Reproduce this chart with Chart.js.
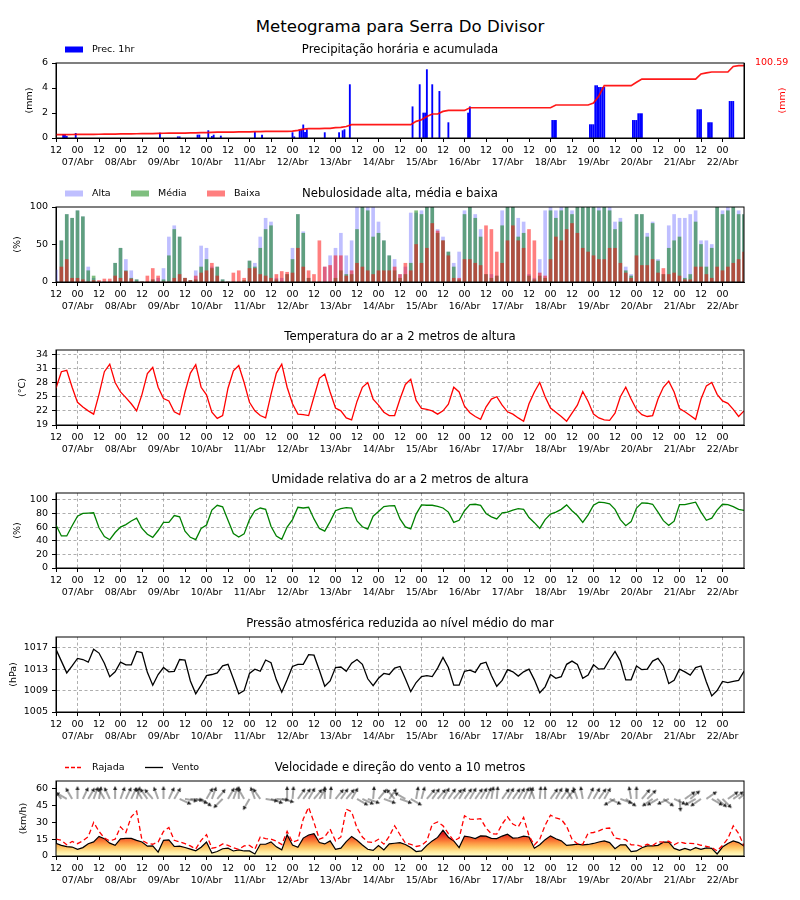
<!DOCTYPE html>
<html>
<head>
<meta charset="utf-8">
<script src="https://cdn.jsdelivr.net/npm/chart.js@4.4.1/dist/chart.umd.min.js"></script>
<style>
  body { margin: 0; background: #fff; width: 800px; height: 900px; position: relative; font-family: "DejaVu Sans", sans-serif; }
  #title { position: absolute; left: 0; top: 17px; width: 800px; text-align: center; font-size: 16.6px; line-height: 20px; color: #000; }
  .panel { position: absolute; left: 0; width: 800px; height: 145px; }
</style>
</head>
<body>
<div id="title">Meteograma para Serra Do Divisor</div>
<div class="panel" style="top:33px"><canvas id="cPrec" width="800" height="145"></canvas></div>
<div class="panel" style="top:177px"><canvas id="cCloud" width="800" height="145"></canvas></div>
<div class="panel" style="top:320px"><canvas id="cTemp" width="800" height="145"></canvas></div>
<div class="panel" style="top:463px"><canvas id="cHum" width="800" height="145"></canvas></div>
<div class="panel" style="top:607px"><canvas id="cPres" width="800" height="145"></canvas></div>
<div class="panel" style="top:751px"><canvas id="cWind" width="800" height="145"></canvas></div>
<script>
// horas desde 06/Abr 12h, passo de 3 h (129 pontos)
const stepHours = 3;
const lastHour = 384;
const dayLabels = ['07/Abr', '08/Abr', '09/Abr', '10/Abr', '11/Abr', '12/Abr', '13/Abr', '14/Abr',
  '15/Abr', '16/Abr', '17/Abr', '18/Abr', '19/Abr', '20/Abr', '21/Abr', '22/Abr'];

const precTicks = [0, 2, 4, 6];
const cloudTicks = [0, 50, 100];
const tempTicks = [19, 22, 25, 28, 31, 34];
const humTicks = [0, 20, 40, 60, 80, 100];
const presTicks = [1005, 1009, 1013, 1017];
const windTicks = [0, 15, 30, 45, 60];

// precipitação horária (hora, mm)
const precipHours = [4, 5, 6, 11, 58, 68, 69, 79, 80, 85, 87, 88, 92, 111, 115, 132, 133, 136, 137, 138, 139, 140,
  150, 158, 160, 161, 164, 199, 203, 205, 206, 207, 210, 214, 219, 230, 231, 277, 278, 279, 298, 299, 300,
  301, 302, 303, 304, 305, 306, 322, 323, 324, 325, 326, 327, 358, 359, 360, 364, 365, 366, 376, 377, 378];
const precipMm = [0.27, 0.27, 0.13, 0.37, 0.4, 0.1, 0.1, 0.24, 0.24, 0.59, 0.13, 0.24, 0.16, 0.45, 0.24, 0.43, 0.1,
  0.64, 0.64, 1.05, 0.45, 0.67, 0.43, 0.43, 0.59, 0.67, 4.27, 2.5, 4.27, 2.0, 2.0, 5.47, 4.27, 3.73, 1.23, 2.0, 2.5,
  1.41, 1.41, 1.41, 1.07, 1.07, 1.07, 4.19, 4.19, 4.05, 4.05, 4.05, 4.05, 1.41, 1.41, 1.41, 1.95, 1.95, 1.95,
  2.27, 2.27, 2.27, 1.23, 1.23, 1.23, 2.93, 2.93, 2.93];
const accumMax = 104.3;
const precipAccum = [4.6, 4.7, 4.8, 4.9, 5.0, 5.0, 5.0, 5.1, 5.2, 5.3,
  5.4, 5.5, 5.6, 5.7, 5.8, 5.9, 6.0, 6.1, 6.2, 6.4,
  6.6, 6.7, 6.8, 6.9, 6.9, 7.0, 7.1, 7.4, 7.6, 7.9,
  8.1, 8.2, 8.3, 8.3, 8.4, 8.4, 8.5, 8.8, 9.0, 9.2,
  9.2, 9.2, 9.2, 9.3, 9.5, 10.6, 12.4, 12.9, 12.9, 13.0,
  13.3, 13.5, 14.3, 14.8, 16.0, 18.5, 18.5, 18.5, 18.5, 18.5,
  18.5, 18.5, 18.5, 18.5, 18.5, 18.5, 18.5, 23.1, 25.4, 30.0,
  33.4, 33.4, 37.0, 38.4, 38.4, 38.4, 38.4, 42.1, 42.1, 42.1,
  42.1, 42.1, 42.1, 42.1, 42.1, 42.1, 42.1, 42.1, 42.1, 42.1,
  42.1, 42.1, 42.1, 45.9, 45.9, 45.9, 45.9, 45.9, 45.9, 45.9,
  48.5, 58.5, 72.7, 72.7, 72.7, 72.7, 72.7, 72.8, 77.5, 82.0,
  82.0, 82.0, 82.0, 82.0, 82.0, 82.0, 82.0, 82.0, 82.0, 82.0,
  89.0, 90.5, 91.8, 91.8, 91.8, 91.8, 99.5, 100.59, 100.59];

const cloudHigh = [16, 55, 90, 85, 95, 87, 20, 5, 0, 0,
  0, 25, 45, 30, 15, 3, 0, 0, 3, 5,
  18, 60, 75, 60, 5, 2, 15, 48, 45, 20,
  20, 3, 0, 0, 0, 0, 28, 25, 60, 85,
  80, 5, 5, 10, 45, 90, 67, 5, 0, 0,
  20, 35, 45, 65, 35, 55, 100, 100, 100, 100,
  80, 55, 35, 30, 10, 20, 92, 92, 95, 100,
  100, 70, 60, 40, 25, 40, 95, 100, 90, 70,
  10, 10, 8, 95, 100, 100, 85, 80, 10, 5,
  30, 95, 100, 95, 100, 100, 95, 100, 100, 100,
  100, 100, 100, 100, 80, 85, 20, 10, 90, 90,
  65, 80, 30, 10, 75, 90, 85, 85, 90, 95,
  55, 55, 50, 100, 95, 100, 100, 95, 90];
const cloudMid = [0, 55, 90, 85, 95, 87, 15, 8, 0, 0,
  0, 25, 45, 15, 5, 3, 0, 0, 3, 0,
  3, 35, 70, 60, 5, 2, 3, 20, 30, 18,
  20, 3, 0, 0, 0, 2, 28, 20, 45, 70,
  75, 3, 0, 10, 30, 90, 65, 5, 0, 0,
  0, 0, 5, 15, 10, 10, 70, 100, 95, 60,
  65, 55, 35, 15, 5, 10, 25, 95, 90, 100,
  100, 65, 55, 40, 20, 3, 90, 100, 85, 60,
  10, 5, 8, 75, 100, 100, 60, 65, 8, 3,
  8, 5, 95, 85, 95, 100, 90, 100, 100, 100,
  100, 95, 100, 95, 70, 80, 15, 8, 90, 90,
  60, 78, 28, 10, 45, 55, 60, 5, 10, 80,
  50, 20, 45, 100, 90, 95, 100, 90, 90];
const cloudLow = [0, 20, 30, 5, 5, 3, 0, 2, 2, 4,
  4, 8, 5, 14, 4, 0, 0, 8, 18, 8,
  0, 0, 5, 10, 5, 2, 8, 12, 15, 25,
  8, 0, 0, 12, 15, 5, 18, 18, 10, 8,
  5, 10, 14, 13, 12, 45, 20, 15, 10, 55,
  20, 22, 35, 35, 8, 15, 25, 20, 15, 10,
  15, 15, 15, 20, 10, 25, 15, 50, 25, 45,
  78, 68, 55, 35, 5, 5, 30, 30, 25, 22,
  75, 70, 40, 25, 55, 75, 55, 45, 70, 55,
  12, 8, 30, 60, 55, 70, 78, 65, 45, 40,
  35, 30, 30, 45, 45, 25, 12, 5, 35, 22,
  22, 30, 12, 18, 10, 12, 8, 3, 3, 20,
  20, 10, 5, 20, 15, 20, 25, 30, 40];

const temperature = [26.8, 30.3, 30.6, 27.0, 23.8, 22.8, 22.0, 21.3, 25.5, 30.3,
  31.9, 28.0, 26.0, 24.8, 23.5, 22.0, 25.5, 29.9, 31.2, 27.0,
  24.6, 24.1, 21.8, 21.2, 26.0, 30.0, 31.8, 27.0, 25.4, 21.7,
  20.4, 21.0, 26.8, 30.5, 31.6, 28.0, 23.8, 22.0, 21.0, 20.5,
  25.5, 30.0, 31.9, 27.0, 23.5, 21.3, 21.2, 21.0, 25.0, 28.9,
  29.8, 26.0, 22.6, 22.0, 20.5, 20.1, 24.0, 27.0, 28.0, 24.5,
  23.2, 21.7, 21.0, 21.0, 24.5, 27.6, 28.7, 24.2, 22.5, 22.3,
  22.0, 21.3, 22.0, 23.4, 27.0, 26.0, 23.0, 21.6, 20.8, 20.2,
  22.8, 24.5, 25.0, 23.2, 21.8, 21.3, 20.5, 19.8, 23.5, 26.0,
  28.0, 25.0, 22.6, 21.7, 20.8, 19.8, 21.5, 23.2, 26.1, 24.0,
  21.3, 20.5, 20.1, 20.0, 21.5, 25.0, 27.0, 24.5, 22.3, 21.2,
  20.8, 21.0, 24.5, 27.0, 28.3, 26.0, 22.5, 21.8, 21.0, 20.2,
  24.5, 27.3, 28.0, 25.5, 24.1, 23.6, 22.3, 20.8, 22.0];

const humidity = [63, 47, 47, 62, 76, 80, 80.5, 81, 59, 46,
  41.5, 52, 60, 63.7, 69, 73, 58, 49.5, 45, 55,
  67, 67, 77, 75, 54, 45, 41.7, 58, 63, 85,
  92, 89.7, 70, 50.5, 45.5, 50, 71, 84, 88, 86,
  61.3, 47, 42, 60, 71, 89, 88, 89, 72, 58,
  54, 68, 84, 87, 88.5, 88, 69, 60.5, 57, 76,
  83, 90, 91, 91.5, 72, 60.3, 57.4, 79, 92.5, 92,
  92, 90.5, 88, 82, 67, 70, 84, 93, 93.5, 92,
  80, 75, 72, 81, 82, 85, 87, 86, 74, 66.5,
  58, 71, 79, 82, 86, 92.5, 84, 77, 67, 78,
  92, 96.5, 96, 94, 86, 71, 62, 68, 88, 95.5,
  95, 93.5, 82, 69.5, 62.5, 68.6, 93, 93, 94.8, 96.6,
  82, 70, 73, 85, 93.5, 93, 90, 86, 84.5];

const pressure = [1016.7, 1014.5, 1012.3, 1013.6, 1015.0, 1014.8, 1014.3, 1016.7, 1016.0, 1014.1,
  1011.6, 1012.5, 1014.3, 1013.8, 1013.8, 1016.3, 1016.1, 1012.4, 1010.0, 1012.0,
  1013.3, 1012.5, 1012.6, 1014.8, 1014.7, 1010.8, 1008.4, 1010.0, 1011.8, 1012.0,
  1012.3, 1013.6, 1013.9, 1011.2, 1008.4, 1009.0, 1012.2, 1013.0, 1012.6, 1014.7,
  1014.2, 1011.0, 1008.7, 1011.0, 1013.5, 1013.9, 1013.9, 1015.7, 1015.6, 1012.8,
  1009.8, 1010.8, 1013.3, 1013.4, 1012.6, 1014.1, 1014.8, 1013.9, 1011.2, 1009.9,
  1011.3, 1012.2, 1012.0, 1013.2, 1013.5, 1011.2, 1008.8, 1010.5, 1011.6, 1011.8,
  1011.6, 1013.2, 1015.2, 1013.3, 1010.0, 1010.0, 1012.6, 1012.8, 1012.4, 1014.0,
  1014.3, 1011.8, 1009.8, 1010.9, 1012.9, 1012.5, 1011.7, 1012.5, 1013.0, 1011.0,
  1008.6, 1009.7, 1012.0, 1011.3, 1011.6, 1013.9, 1014.5, 1013.9, 1011.3, 1011.9,
  1013.8, 1013.0, 1013.1, 1014.8, 1016.3, 1014.5, 1011.0, 1011.0, 1013.6, 1012.9,
  1013.0, 1014.5, 1015.0, 1013.6, 1010.3, 1010.9, 1013.0, 1012.5, 1011.9, 1013.3,
  1013.6, 1010.6, 1008.0, 1009.0, 1010.7, 1010.5, 1010.7, 1010.9, 1012.6];

const windSpeed = [11.4, 9.5, 8.4, 8.0, 6.0, 7.5, 11.0, 12.6, 17.5, 15.5,
  11.5, 9.5, 15.3, 15.8, 15.8, 14.0, 12.5, 8.8, 9.0, 3.5,
  14.0, 14.4, 8.5, 8.8, 7.6, 6.2, 4.6, 7.8, 12.5, 2.7,
  4.0, 6.5, 7.0, 4.5, 5.5, 4.5, 4.5, 1.8, 10.5, 10.5,
  12.6, 8.2, 5.5, 19.0, 9.8, 7.8, 16.0, 18.8, 20.0, 12.0,
  10.8, 13.5, 6.0, 7.0, 12.8, 17.5, 14.0, 9.8, 6.0, 5.0,
  9.4, 5.5, 10.8, 11.4, 12.0, 10.3, 7.5, 4.0, 4.6, 9.5,
  13.5, 16.6, 23.0, 16.8, 13.5, 7.5, 17.8, 17.0, 15.5, 18.0,
  17.8, 15.8, 15.5, 17.8, 19.5, 16.0, 16.3, 17.7, 17.0, 7.0,
  10.0, 14.6, 18.0, 15.4, 13.5, 9.5, 10.0, 10.6, 10.0, 10.3,
  11.2, 12.5, 13.5, 12.0, 6.5, 10.0, 10.0, 4.0, 4.5, 7.4,
  9.0, 9.0, 9.5, 12.4, 12.4, 6.8, 5.0, 6.8, 5.2, 7.5,
  6.0, 7.2, 6.8, 1.8, 8.0, 11.2, 13.5, 12.0, 9.0];

const windGust = [15, 14, 10, 13, 11, 13.5, 17.3, 30, 22, 16,
  13.5, 15, 26, 21, 35, 40, 14, 11.3, 10.5, 12.5,
  22, 25.5, 14, 12.6, 11, 9, 6.2, 14, 19, 7,
  7.8, 10.7, 9.5, 7.3, 6, 9, 9.5, 6, 17, 15.6,
  15, 13.3, 10.2, 22, 12.3, 14, 33, 43.5, 30, 15,
  17, 24, 13.5, 17, 41.8, 39.5, 25, 17, 12.6, 12,
  15, 10.6, 17.5, 27, 19, 11.6, 10.5, 8.5, 9.5, 13.5,
  28.3, 30.4, 27, 20, 13.5, 16, 36, 33, 32.7, 33.3,
  25, 19.8, 19.5, 28.5, 35, 28.5, 26, 34.5, 18, 9.8,
  15, 27.5, 36.5, 34, 32.8, 26.5, 15, 11, 10.5, 20.4,
  21, 22.5, 24.6, 25, 16, 15, 14.6, 10, 10, 8.4,
  10.5, 9.4, 12.8, 12.4, 13.2, 10, 12.5, 11.4, 11.2, 11,
  9.6, 8.6, 7.6, 4.5, 9.5, 15.5, 27, 20, 9];

// direção para onde a seta aponta (graus, sentido horário a partir do norte)
const windDir = [315, 320, 300, 330, 0, 25, 30, 20, 10, 330,
  335, 0, 20, 25, 25, 15, 330, 325, 320, 340,
  0, 25, 30, 115, 100, 95, 110, 125, 30, 20,
  40, 225, 30, 20, 0, 330, 210, 340, 325, 100,
  110, 95, 105, 0, 5, 35, 35, 30, 40, 30,
  0, 5, 40, 35, 40, 30, 120, 115, 110, 5,
  40, 110, 35, 320, 110, 300, 120, 10, 15, 40,
  35, 40, 30, 35, 40, 30, 35, 30, 35, 30,
  25, 10, 5, 35, 30, 35, 30, 25, 20, 340,
  5, 0, 35, 30, 35, 40, 330, 340, 350, 25,
  30, 35, 30, 115, 240, 110, 125, 350, 0, 40,
  45, 235, 240, 125, 245, 115, 175, 55, 50, 240,
  235, 55, 120, 130, 135, 55, 55, 50, 45];
const arrowLevel = 51;

Chart.defaults.font.family = '"DejaVu Sans", sans-serif';
Chart.defaults.font.size = 9.5;
Chart.defaults.color = '#000';

const pts = vals => vals.map((v, i) => ({ x: i * stepHours, y: v }));

function xAxis(withGrid) {
  return {
    type: 'linear', min: 0, max: lastHour, offset: false,
    afterBuildTicks: ax => { ax.ticks = ax.ticks.filter(t => t.value < lastHour); },
    ticks: {
      stepSize: 12, autoSkip: false, maxRotation: 0, minRotation: 0, padding: 3,
      font: { size: 9.5, lineHeight: 1.25 },
      callback: v => {
        const k = (v - 12) / 24;
        return Number.isInteger(k) ? ['00', dayLabels[k]] : ['12', ''];
      }
    },
    grid: {
      offset: false, drawOnChartArea: withGrid, lineWidth: 0.8,
      color: c => (c.tick && (c.tick.value - 12) % 24 === 0) ? '#999' : 'rgba(0,0,0,0)',
      tickLength: 4, tickColor: '#000', tickWidth: 1, tickBorderDash: []
    },
    border: { color: '#000', width: 1, dash: [3, 2.5] },
    afterFit: s => { s.height = 40; }
  };
}

function yAxis(tickList, min, max, withGrid, title, titlePad) {
  return {
    position: 'left', min, max,
    afterBuildTicks: ax => { ax.ticks = tickList.map(v => ({ value: v })); },
    ticks: { autoSkip: false, padding: 4, callback: v => String(v) },
    grid: {
      drawOnChartArea: withGrid, lineWidth: 0.8,
      color: c => (c.tick && c.tick.value !== min) ? '#999' : 'rgba(0,0,0,0)',
      tickLength: 4, tickColor: '#000', tickWidth: 1, tickBorderDash: []
    },
    border: { color: '#000', width: 1, dash: [3, 2.5] },
    title: { display: true, text: title, font: { size: 9.5 }, padding: { top: titlePad, bottom: 0 } },
    afterFit: s => { s.width = 56; }
  };
}

// moldura, título do painel e legenda
function header(title, items, rightLabel) {
  return {
    id: 'header',
    afterDraw(chart) {
      const { ctx, chartArea: a } = chart;
      ctx.save();
      ctx.strokeStyle = '#000';
      ctx.lineWidth = 1;
      ctx.strokeRect(a.left, a.top, a.right - a.left, a.bottom - a.top);
      ctx.fillStyle = '#000';
      ctx.font = '11.7px "DejaVu Sans"';
      ctx.textAlign = 'center';
      ctx.textBaseline = 'middle';
      ctx.fillText(title, (a.left + a.right) / 2, a.top - 12.6);
      ctx.font = '9.5px "DejaVu Sans"';
      ctx.textAlign = 'left';
      const y = a.top - 13.5;
      items.forEach(it => {
        if (it.kind === 'box') {
          ctx.fillStyle = it.color;
          ctx.fillRect(it.x, y - 3, 18, 6);
        } else {
          ctx.strokeStyle = it.color;
          ctx.lineWidth = 1.3;
          ctx.setLineDash(it.dash || []);
          ctx.beginPath();
          ctx.moveTo(it.x, y);
          ctx.lineTo(it.x + 18, y);
          ctx.stroke();
          ctx.setLineDash([]);
        }
        ctx.fillStyle = '#000';
        ctx.fillText(it.label, it.x + 27, y);
      });
      if (rightLabel) {
        ctx.save();
        ctx.translate(783, (a.top + a.bottom) / 2);
        ctx.rotate(-Math.PI / 2);
        ctx.textAlign = 'center';
        ctx.fillStyle = 'red';
        ctx.fillText(rightLabel, 0, 0);
        ctx.restore();
      }
      ctx.restore();
    }
  };
}

function baseOptions(scales, padRight) {
  return {
    responsive: false, animation: false, events: [],
    layout: { padding: { top: 30, right: padRight, left: 0, bottom: 0 } },
    plugins: { legend: { display: false }, tooltip: { enabled: false } },
    scales
  };
}

// 1. precipitação
new Chart(document.getElementById('cPrec'), {
  type: 'bar',
  data: {
    datasets: [
      { type: 'line', label: 'Acumulada', data: pts(precipAccum), yAxisID: 'y2',
        borderColor: 'rgba(255,0,0,0.9)', borderWidth: 1.7, pointRadius: 0, order: 1 },
      { type: 'bar', label: 'Prec. 1hr', data: precipHours.map((h, i) => ({ x: h, y: precipMm[i] })),
        backgroundColor: '#0000ff', barThickness: 1.2, order: 2 }
    ]
  },
  options: baseOptions({
    x: xAxis(false),
    y: yAxis(precTicks, 0, 6, false, '(mm)', 24.3),
    y2: {
      position: 'right', min: 0, max: accumMax,
      afterBuildTicks: ax => { ax.ticks = [{ value: accumMax }]; },
      ticks: { color: 'red', padding: 11, callback: () => precipAccum[precipAccum.length - 1].toFixed(2) },
      grid: { drawOnChartArea: false, drawTicks: false },
      border: { color: '#000', width: 1 },
      afterFit: s => { s.width = 56; }
    }
  }, 0),
  plugins: [header('Precipitação horária e acumulada', [{ kind: 'box', color: '#0000ff', label: 'Prec. 1hr', x: 65 }], '(mm)')]
});

// 2. nebulosidade
const cloudBar = { type: 'bar', grouped: false, barThickness: 3, borderWidth: 0 };
new Chart(document.getElementById('cCloud'), {
  type: 'bar',
  data: {
    datasets: [
      Object.assign({ label: 'Alta', data: pts(cloudHigh), backgroundColor: 'rgba(128,128,255,0.5)', order: 3 }, cloudBar),
      Object.assign({ label: 'Média', data: pts(cloudMid), backgroundColor: 'rgba(0,128,0,0.5)', order: 2 }, cloudBar),
      Object.assign({ label: 'Baixa', data: pts(cloudLow), backgroundColor: 'rgba(255,0,0,0.5)', order: 1 }, cloudBar)
    ]
  },
  options: baseOptions({ x: xAxis(false), y: yAxis(cloudTicks, 0, 100, false, '(%)', 12.3) }, 56),
  plugins: [header('Nebulosidade alta, média e baixa', [
    { kind: 'box', color: 'rgba(128,128,255,0.5)', label: 'Alta', x: 65 },
    { kind: 'box', color: 'rgba(0,128,0,0.5)', label: 'Média', x: 131 },
    { kind: 'box', color: 'rgba(255,0,0,0.5)', label: 'Baixa', x: 207 }
  ])]
});

// 3. temperatura
new Chart(document.getElementById('cTemp'), {
  type: 'line',
  data: { datasets: [{ label: 'Temperatura', data: pts(temperature), borderColor: '#ff0000', borderWidth: 1.3, pointRadius: 0 }] },
  options: baseOptions({ x: xAxis(true), y: yAxis(tempTicks, 19, 34.9, true, '(°C)', 17.3) }, 56),
  plugins: [header('Temperatura do ar a 2 metros de altura', [])]
});

// 4. umidade
new Chart(document.getElementById('cHum'), {
  type: 'line',
  data: { datasets: [{ label: 'Umidade', data: pts(humidity), borderColor: '#008000', borderWidth: 1.3, pointRadius: 0 }] },
  options: baseOptions({ x: xAxis(true), y: yAxis(humTicks, 0, 110, true, '(%)', 12.3) }, 56),
  plugins: [header('Umidade relativa do ar a 2 metros de altura', [])]
});

// 5. pressão
new Chart(document.getElementById('cPres'), {
  type: 'line',
  data: { datasets: [{ label: 'Pressão', data: pts(pressure), borderColor: '#000', borderWidth: 1.3, pointRadius: 0 }] },
  options: baseOptions({ x: xAxis(true), y: yAxis(presTicks, 1005, 1019, true, '(hPa)', 8.3) }, 56),
  plugins: [header('Pressão atmosférica reduzida ao nível médio do mar', [])]
});

// 6. vento
function makeArrow() {
  const L = 14;
  const c = document.createElement('canvas');
  c.width = 2 * L; c.height = 2 * L;
  const g = c.getContext('2d');
  g.strokeStyle = '#222'; g.fillStyle = '#222'; g.lineWidth = 0.8;
  g.beginPath(); g.moveTo(L, L); g.lineTo(L, 3); g.stroke();
  g.beginPath(); g.moveTo(L, 1); g.lineTo(L - 2, 5); g.lineTo(L + 2, 5); g.closePath(); g.fill();
  return c;
}
const arrowImg = makeArrow();

new Chart(document.getElementById('cWind'), {
  type: 'line',
  data: {
    datasets: [
      { label: 'Direção', data: windDir.map((d, i) => ({ x: i * stepHours, y: arrowLevel })), showLine: false,
        pointStyle: arrowImg, pointRotation: windDir, pointRadius: 3, order: 0 },
      { label: 'Rajada', data: pts(windGust), borderColor: '#ff0000', borderWidth: 1.3, borderDash: [5, 3],
        pointRadius: 0, order: 1 },
      { label: 'Vento', data: pts(windSpeed), borderColor: '#000', borderWidth: 1.2, pointRadius: 0, order: 2,
        fill: 'origin',
        backgroundColor: c => {
          const ch = c.chart;
          if (!ch.chartArea) return 'rgba(0,0,0,0)';
          const y = ch.scales.y;
          const g = ch.ctx.createLinearGradient(0, y.getPixelForValue(0), 0, y.getPixelForValue(20));
          g.addColorStop(0, '#ffffcc');
          g.addColorStop(0.2, '#ffe89a');
          g.addColorStop(0.4, '#fec25e');
          g.addColorStop(0.6, '#fd9040');
          g.addColorStop(0.8, '#f4582a');
          g.addColorStop(1, '#d7191c');
          return g;
        } }
    ]
  },
  options: baseOptions({ x: xAxis(false), y: yAxis(windTicks, 0, 67, false, '(km/h)', 18.3) }, 56),
  plugins: [header('Velocidade e direção do vento a 10 metros', [
    { kind: 'line', color: '#ff0000', dash: [4, 2], label: 'Rajada', x: 65 },
    { kind: 'line', color: '#000', label: 'Vento', x: 145 }
  ])]
});
</script>
</body>
</html>
